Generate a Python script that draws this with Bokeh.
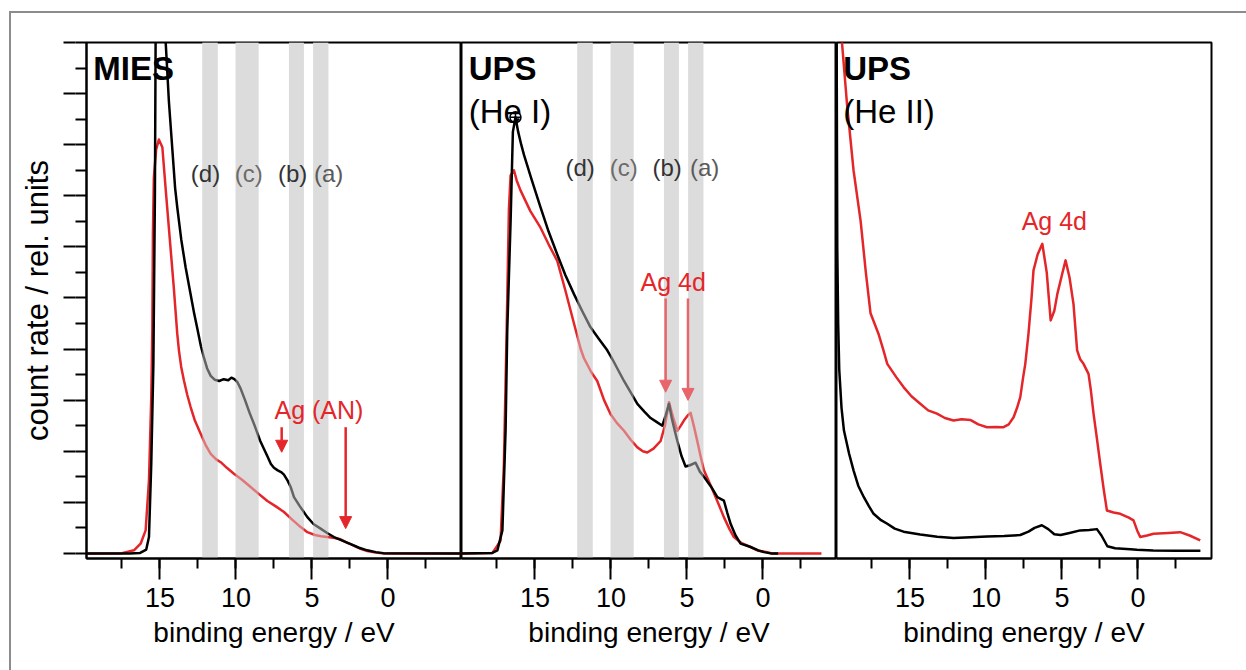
from bokeh.plotting import figure
from bokeh.layouts import row
from bokeh.models import (Range1d, SingleIntervalTicker, FixedTicker, LinearAxis, Label, Arrow,
                          NormalHead, ColumnDataSource)
from bokeh.core.properties import value
from bokeh.embed import file_html
from bokeh.resources import INLINE

FONT = "Liberation Sans"
RED = "#e4262a"
RED_LIGHT = "#e8656c"
BAND = "#dcdcdc"

# ---------------- data (binding energy in eV, count rate in rel. units) ----------------
mies_E_black = [19.83, 17.0, 16.3, 15.9, 15.72, 15.57, 15.43, 15.33, 15.28, 15.1,
                14.9, 14.62, 14.41, 14.18, 14.0, 13.86, 13.6, 13.31, 13.0, 12.75,
                12.54, 12.3, 12.1, 11.9, 11.66, 11.4, 11.1, 10.8, 10.5, 10.3,
                10.1, 9.9, 9.69, 9.4, 9.1, 8.8, 8.4, 7.93, 7.7, 7.5,
                7.25, 7.0, 6.84, 6.6, 6.4, 6.18, 5.8, 5.3, 4.9, 4.43,
                4.0, 3.55, 3.0, 2.45, 1.9, 1.36, 0.8, 0.3, -4.84]
mies_black = [0, 0, 0.02, 0.15, 0.64, 3.5, 7.4, 14.0, 20.5, 23.5,
              22.5, 20.0, 17.7, 15.8, 14.3, 13.55, 12.3, 11.2, 10.2, 9.4,
              8.8, 8.1, 7.65, 7.25, 6.95, 6.8, 6.75, 6.82, 6.78, 6.88,
              6.82, 6.7, 6.45, 6.0, 5.5, 5.05, 4.4, 3.8, 3.5, 3.35,
              3.25, 3.17, 3.08, 2.85, 2.6, 2.2, 1.85, 1.42, 1.15, 0.97,
              0.8, 0.64, 0.5, 0.36, 0.22, 0.12, 0.05, 0.01, 0]

mies_E_red = [19.83, 17.5, 16.71, 16.27, 15.94, 15.72, 15.57, 15.5, 15.46, 15.4,
              15.25, 15.07, 14.84, 14.6, 14.35, 14.1, 13.86, 13.75, 13.6, 13.42,
              13.2, 12.98, 12.7, 12.32, 12.0, 11.66, 11.3, 11.0, 10.6, 10.13,
              9.6, 9.03, 8.5, 7.93, 7.4, 6.84, 6.3, 5.74, 5.3, 4.8,
              4.4, 3.99, 3.5, 3.11, 2.7, 2.24, 1.8, 1.36, 0.8, 0.26, -4.84]
mies_red = [0, 0.01, 0.12, 0.38, 0.9, 2.86, 6.1, 8.73, 12.5, 14.7,
            15.8, 16.2, 15.9, 14.1, 12.3, 10.5, 8.6, 7.95, 7.3, 6.77,
            6.2, 5.73, 5.2, 4.68, 4.25, 3.9, 3.68, 3.57, 3.35, 3.12,
            2.88, 2.6, 2.33, 2.05, 1.85, 1.62, 1.32, 1.03, 0.83, 0.72,
            0.67, 0.64, 0.6, 0.55, 0.42, 0.3, 0.18, 0.09, 0.03, 0.0, 0]

hei_E_black = [19.83, 17.8, 17.47, 17.14, 16.93, 16.82, 16.6, 16.45, 16.28, 16.1,
               15.9, 15.72, 15.2, 14.63, 14.1, 13.53, 13.0, 12.43, 11.9, 11.34,
               10.8, 10.24, 9.9, 9.5, 9.14, 8.7, 8.26, 7.8, 7.39, 7.0,
               6.62, 6.4, 6.18, 6.0, 5.8, 5.63, 5.35, 5.09, 4.8, 4.43,
               4.15, 3.88, 3.4, 3.0, 2.57, 2.35, 2.12, 1.8, 1.47, 0.81,
               0.3, -0.07, -0.5, -1.0]
hei_black = [0, 0.02, 0.12, 0.9, 4.81, 8.73, 13.0, 16.5, 17.07, 16.5,
             16.0, 15.6, 14.6, 13.55, 12.6, 11.7, 10.9, 10.15, 9.5, 8.85,
             8.4, 7.95, 7.6, 7.15, 6.75, 6.3, 5.85, 5.55, 5.3, 5.15,
             5.0, 5.4, 5.85, 5.3, 4.8, 4.4, 3.8, 3.4, 3.45, 3.55,
             3.2, 3.0, 2.6, 2.2, 2.07, 1.6, 1.15, 0.7, 0.38, 0.25,
             0.12, 0.05, 0.0, 0.0]

hei_E_red = [19.83, 17.8, 17.7, 17.26, 17.04, 16.86, 16.71, 16.6, 16.38, 16.2,
             15.94, 15.3, 14.63, 14.1, 13.53, 13.0, 12.43, 11.99, 11.78, 11.3,
             10.9, 10.45, 10.02, 9.6, 9.14, 8.7, 8.26, 7.9, 7.61, 7.2,
             6.73, 6.45, 6.18, 5.9, 5.63, 5.4, 5.2, 4.95, 4.76, 4.55,
             4.32, 4.1, 3.88, 3.5, 3.22, 2.9, 2.57, 2.2, 1.91, 1.4,
             0.81, 0.3, -0.29, -0.6, -3.85]
hei_red = [0, 0.02, 0.1, 0.5, 3.5, 8.73, 13.5, 14.8, 15.0, 14.6,
           14.2, 13.4, 12.75, 12.1, 11.45, 10.3, 9.0, 8.0, 7.65, 7.1,
           6.75, 6.0, 5.45, 5.1, 4.8, 4.45, 4.15, 4.0, 3.95, 4.1,
           4.4, 5.0, 5.92, 5.3, 4.8, 5.0, 5.2, 5.4, 5.5, 5.0,
           4.4, 3.8, 3.25, 2.75, 2.35, 1.9, 1.42, 0.95, 0.64, 0.4,
           0.25, 0.1, 0.05, 0.0, 0.0]

heii_E_black = [19.83, 19.78, 19.72, 19.65, 19.5, 19.34, 19.0, 18.71, 18.4, 18.03,
                17.7, 17.39, 16.9, 16.49, 16.0, 15.42, 14.32, 13.2, 12.13, 11.0,
                9.93, 8.8, 7.74, 7.2, 6.8, 6.32, 5.9, 5.5, 5.09, 4.5,
                3.8, 3.2, 2.7, 2.4, 2.01, 1.5, 0.5, 0.07, -1.0, -2.5, -4.11]
heii_black = [22, 12, 9, 7.2, 5.7, 4.81, 3.9, 3.25, 2.65, 2.2,
              1.85, 1.55, 1.3, 1.16, 0.97, 0.85, 0.74, 0.65, 0.6, 0.63,
              0.66, 0.68, 0.72, 0.85, 1.0, 1.1, 0.95, 0.75, 0.72, 0.8,
              0.9, 0.92, 0.95, 0.7, 0.28, 0.2, 0.16, 0.14, 0.11, 0.1, 0.1]

heii_E_red = [19.6, 19.47, 19.14, 18.71, 18.24, 17.9, 17.59, 17.07, 16.74, 16.49,
              15.9, 15.42, 14.9, 14.32, 13.8, 13.22, 12.7, 12.13, 11.6, 11.0,
              10.5, 9.93, 9.4, 8.84, 8.5, 8.18, 7.95, 7.74, 7.55, 7.41,
              7.2, 7.0, 6.87, 6.6, 6.29, 6.0, 5.74, 5.5, 5.3, 5.0,
              4.76, 4.5, 4.24, 4.0, 3.8, 3.58, 3.25, 3.1, 2.92, 2.7,
              2.48, 2.25, 2.04, 1.6, 1.16, 0.6, 0.29, 0.05, -0.15, -0.6,
              -1.03, -2.0, -2.78, -3.4, -4.1]
heii_red = [22, 20, 17.6, 15.0, 13.0, 11.0, 9.4, 8.6, 7.95, 7.42,
            6.9, 6.51, 6.15, 5.86, 5.6, 5.47, 5.3, 5.2, 5.25, 5.22,
            5.05, 4.94, 4.95, 4.94, 5.05, 5.33, 5.7, 6.12, 6.9, 7.42,
            8.6, 10.0, 11.08, 11.7, 12.12, 11.0, 9.12, 9.5, 10.16, 10.9,
            11.47, 10.8, 9.77, 7.95, 7.6, 7.42, 7.03, 6.4, 5.47, 4.5,
            3.51, 2.5, 1.68, 1.6, 1.55, 1.4, 1.29, 0.9, 0.64, 0.7,
            0.77, 0.8, 0.83, 0.7, 0.51]

# shaded energy windows (a)-(d)
band_hi = [12.21, 10.02, 6.51, 4.92]
band_lo = [11.20, 8.51, 5.53, 3.92]
band_labels = ["(d)", "(c)", "(b)", "(a)"]
band_label_colors = ["#333333", "#6b6b6b", "#333333", "#5a5a5a"]
band_label_E_mies = [12.0, 9.16, 6.27, 3.9]
band_label_E_hei = [12.03, 9.16, 6.30, 3.84]

# y ticks (unlabelled): short at every unit, long at every second unit
y_short_ticks = list(range(0, 21))
y_long_ticks = list(range(0, 21, 2))

# annotation anchors (eV, rel. units)
mies_arrows_E = [6.99, 2.78]
mies_arrows_y = [(4.94, 3.96), (4.94, 0.97)]
hei_arrows_E = [6.40, 4.93]
hei_arrows_y = [(9.98, 6.31), (9.98, 5.99)]

X_START, X_END = 19.83, -4.84
Y_START, Y_END = -0.2, 20.0


def style_ticks(ax, out):
    ax.major_tick_out = out
    ax.minor_tick_out = out
    ax.major_tick_in = 0
    ax.minor_tick_in = 0
    ax.major_tick_line_width = 2
    ax.minor_tick_line_width = 2
    ax.major_tick_line_color = "black"
    ax.minor_tick_line_color = "black"
    ax.major_label_standoff = 0


def make_panel(width, border_left, border_right, with_y):
    p = figure(width=width, height=657,
               x_range=Range1d(X_START, X_END), y_range=Range1d(Y_START, Y_END),
               output_backend="svg", toolbar_location=None,
               min_border_left=border_left, min_border_right=border_right,
               min_border_top=29, min_border_bottom=112)
    p.grid.visible = False
    p.outline_line_color = "black"
    p.outline_line_width = 2
    p.outline_line_alpha = 1.0
    p.background_fill_color = "white"
    p.border_fill_color = "white"

    xa = p.xaxis[0]
    xa.ticker = SingleIntervalTicker(interval=5, num_minor_ticks=2)
    xa.axis_label = "binding energy / eV"
    xa.axis_label_text_font = FONT
    xa.axis_label_text_font_size = "28px"
    xa.axis_label_text_font_style = "normal"
    xa.axis_label_text_color = "black"
    xa.axis_label_standoff = 7
    xa.major_label_text_font = FONT
    xa.major_label_text_font_size = "27px"
    xa.major_label_text_color = "black"
    xa.major_label_standoff = 8
    xa.axis_line_width = 2
    xa.axis_line_color = "black"
    xa.major_tick_line_width = 2
    xa.minor_tick_line_width = 2
    xa.major_tick_line_color = "black"
    xa.minor_tick_line_color = "black"
    xa.major_tick_out = 21
    xa.major_tick_in = 0
    xa.minor_tick_out = 10
    xa.minor_tick_in = 0

    if with_y:
        # inner axis: axis line + short ticks
        ya = p.yaxis[0]
        ya.ticker = FixedTicker(ticks=[], minor_ticks=y_short_ticks)
        ya.axis_line_width = 2
        ya.axis_line_color = "black"
        style_ticks(ya, 11)
        # outer axis: extension of every second tick + axis title
        yb = LinearAxis(ticker=FixedTicker(ticks=[], minor_ticks=y_long_ticks))
        yb.axis_line_color = None
        style_ticks(yb, 12)
        yb.axis_label = "count rate / rel. units"
        yb.axis_label_text_font = FONT
        yb.axis_label_text_font_size = "31px"
        yb.axis_label_text_font_style = "normal"
        yb.axis_label_text_color = "black"
        yb.axis_label_standoff = 9
        p.add_layout(yb, "left")
    else:
        p.yaxis.visible = False
    return p


def add_bands(p, alpha):
    src = ColumnDataSource(dict(left=band_hi, right=band_lo))
    p.quad(left="left", right="right", bottom=Y_START, top=Y_END, source=src,
           fill_color=BAND, fill_alpha=alpha, line_color=None)


def add_band_labels(p, xs, y):
    src = ColumnDataSource(dict(x=xs, y=[y] * len(xs), t=band_labels, c=band_label_colors))
    p.text(x="x", y="y", text="t", text_color="c", source=src,
           text_font=value(FONT), text_font_size="24px",
           text_align="center", text_baseline="middle")


def add_title(p, bold, sub, x):
    p.add_layout(Label(x=x, y=19.0, text=bold, text_font=FONT, text_font_size="33px",
                       text_font_style="bold", text_color="black",
                       text_align="left", text_baseline="middle"))
    if sub:
        p.add_layout(Label(x=x, y=17.3, text=sub, text_font=FONT, text_font_size="33px",
                           text_font_style="normal", text_color="black",
                           text_align="left", text_baseline="middle"))


def add_arrow(p, x, y0, y1, color):
    p.add_layout(Arrow(end=NormalHead(size=12, fill_color=color, line_color=color, line_width=1),
                       x_start=x, y_start=y0, x_end=x, y_end=y1,
                       line_color=color, line_width=2.5))


def add_note(p, x, y, text):
    p.add_layout(Label(x=x, y=y, text=text, text_font=FONT, text_font_size="25px",
                       text_color=RED, text_align="center", text_baseline="middle"))


LW = 2.5

# ---------------- panel 1 : MIES ----------------
p1 = make_panel(450, 75, 0, True)
add_bands(p1, 1.0)
p1.line(mies_E_red, mies_red, line_color=RED, line_width=LW, line_join="round")
p1.line(mies_E_black, mies_black, line_color="black", line_width=LW, line_join="round")
add_bands(p1, 0.45)
add_band_labels(p1, band_label_E_mies, 14.86)
add_title(p1, "MIES", None, 19.38)
add_note(p1, 4.54, 5.6, "Ag (AN)")
for xE, (ya, yb) in zip(mies_arrows_E, mies_arrows_y):
    add_arrow(p1, xE, ya, yb, RED)

# ---------------- panel 2 : UPS He I ----------------
p2 = make_panel(375, 0, 0, False)
add_bands(p2, 1.0)
p2.line(hei_E_red, hei_red, line_color=RED, line_width=LW, line_join="round")
p2.line(hei_E_black, hei_black, line_color="black", line_width=LW, line_join="round")
add_bands(p2, 0.45)
add_band_labels(p2, band_label_E_hei, 15.12)
add_title(p2, "UPS", "(He I)", 19.36)
ipk = hei_black.index(max(hei_black))
p2.scatter([hei_E_black[ipk]], [hei_black[ipk]], marker="circle_cross", size=11,
           fill_color=None, line_color="black", line_width=1.5)
add_note(p2, 5.9, 10.62, "Ag 4d")
for xE, (ya, yb) in zip(hei_arrows_E, hei_arrows_y):
    add_arrow(p2, xE, ya, yb, RED_LIGHT)

# ---------------- panel 3 : UPS He II ----------------
p3 = make_panel(410, 0, 35, False)
p3.line(heii_E_red, heii_red, line_color=RED, line_width=LW, line_join="round")
p3.line(heii_E_black, heii_black, line_color="black", line_width=LW, line_join="round")
add_title(p3, "UPS", "(He II)", 19.39)
add_note(p3, 5.5, 13.03, "Ag 4d")

layout = row(p1, p2, p3, margin=(11, 0, 0, 9),
             styles={"border-top": "2px solid #8c8c8c", "border-left": "2px solid #8c8c8c"})

open("out.html", "w").write(file_html(layout, INLINE))
